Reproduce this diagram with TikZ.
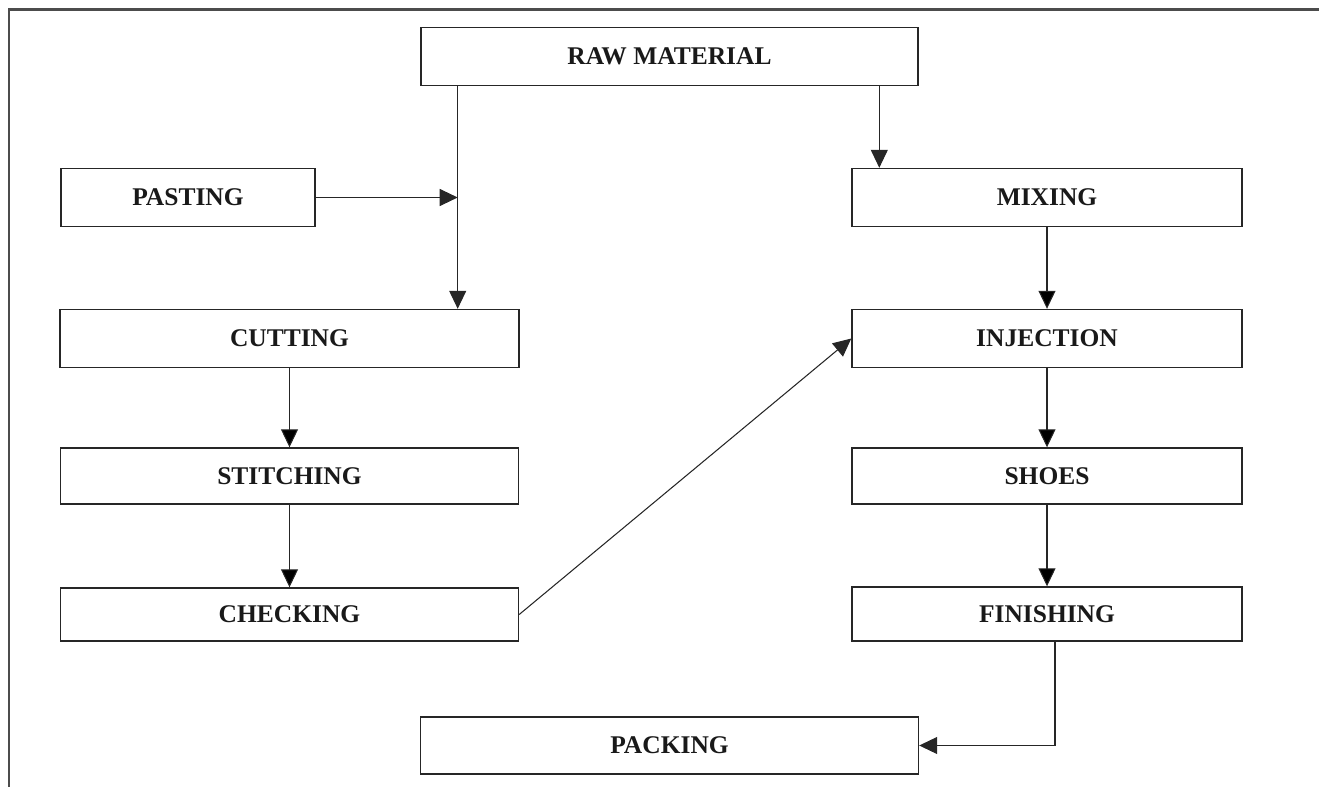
\documentclass[tikz,border=0pt]{standalone}
\usepackage{fontspec}
\setmainfont{Liberation Serif}
\usepackage{tikz}
\usetikzlibrary{arrows.meta, positioning, calc}

\begin{document}
\begin{tikzpicture}[>={Triangle[length=0.36cm, width=0.34cm]}, every node/.style={font=\fontsize{14.5}{17}\selectfont\bfseries, text=black!90}, stage/.style={draw=black!85, line width=0.8pt, rectangle, minimum height=1.16cm, inner sep=0pt}, post/.style={->, line width=0.6pt, draw=black!85}]

	\useasboundingbox (0,0) rectangle (26.38,-15.74);
	\draw[line width=1.2pt, black!70] (26.38,-0.19) -- (0.18,-0.19) -- (0.18,-15.74);

	\node [stage] (RM) at (13.39,-1.13) [minimum width=9.94cm]
		{RAW MATERIAL};

	\node [stage] (PASTE) at (3.76,-3.95) [minimum width=5.08cm]
		{PASTING};

	\node [stage] (MIX) at (20.94,-3.95) [minimum width=7.8cm]
		{MIXING};

	\node [stage] (CUT) at (5.79,-6.77) [minimum width=9.18cm]
		{CUTTING};

	\node [stage] (STITCH)
		[node distance=2.75cm, below of=CUT, minimum width=9.16cm, minimum height=1.12cm]
		{STITCHING};

	\node [stage] (CHECK)
		[node distance=2.77cm, below of=STITCH, minimum width=9.16cm, minimum height=1.06cm]
		{CHECKING};

	\node [stage] (INJ)
		[node distance=2.82cm, below of=MIX, minimum width=7.8cm]
		{INJECTION};

	\node [stage] (SHOES)
		[node distance=2.75cm, below of=INJ, minimum width=7.8cm, minimum height=1.12cm]
		{SHOES};

	\node [stage] (FIN)
		[node distance=2.76cm, below of=SHOES, minimum width=7.8cm, minimum height=1.08cm]
		{FINISHING};

	\node [stage] (PACK)
		[node distance=13.78cm, below of=RM, minimum width=9.96cm, minimum height=1.14cm]
		{PACKING};

	\coordinate (join) at ($(PASTE.east)+(2.84,0)$);
	\coordinate (mixin) at ([xshift=0.56cm]MIX.north west);

	\draw[post] (RM.south -| join) -- (CUT.north -| join);
	\draw[post] (PASTE) -- (join);
	\draw[post] (RM.south -| mixin) -- (mixin);

	\draw[post] (MIX) edge (INJ);
	\draw[post] (INJ) edge (SHOES);
	\draw[post] (SHOES) edge (FIN);

	\draw[post] (CUT) edge (STITCH);
	\draw[post] (STITCH) edge (CHECK);

	\draw[post] (CHECK.east) -- (INJ.west);

	\draw[post] ([xshift=0.16cm]FIN.south) |- (PACK.east);

\end{tikzpicture}
\end{document}
